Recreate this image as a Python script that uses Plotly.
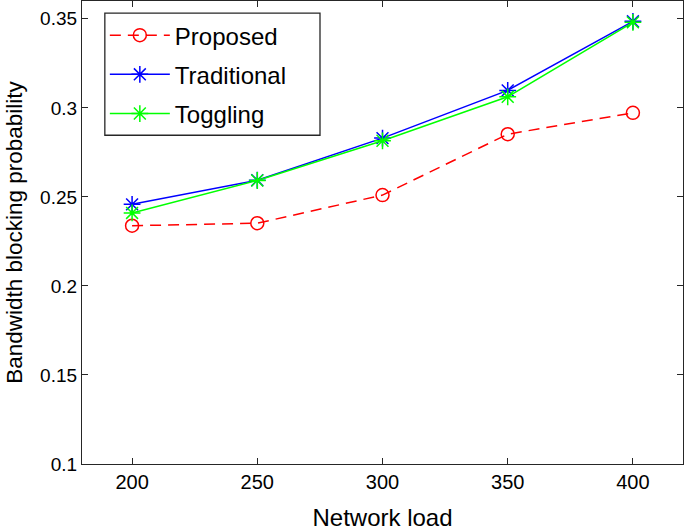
import plotly.graph_objects as go

# network load values on the x axis
network_load = [200, 250, 300, 350, 400]

# bandwidth blocking probability per scheme
proposed = [0.2338, 0.2352, 0.2510, 0.2852, 0.2972]
traditional = [0.2458, 0.2594, 0.2830, 0.3098, 0.3486]
toggling = [0.2410, 0.2592, 0.2815, 0.3062, 0.3480]

FONT = "Liberation Sans, Arial, Helvetica, sans-serif"

fig = go.Figure()

fig.add_trace(go.Scatter(
    x=network_load, y=proposed, name="Proposed", legendgroup="a",
    mode="lines+markers",
    line=dict(color="#ff0000", width=1.5, dash="11px,7px"),
    marker=dict(symbol="circle-open", size=13, color="#ff0000", line=dict(width=1.5)),
))
fig.add_trace(go.Scatter(
    x=network_load, y=traditional, name="Traditional", legendgroup="b",
    mode="lines+markers",
    line=dict(color="#0000ff", width=1.5),
    marker=dict(symbol="asterisk-open", size=14, color="#0000ff", line=dict(width=1.5, color="#0000ff")),
))
fig.add_trace(go.Scatter(
    x=network_load, y=toggling, name="Toggling", legendgroup="c",
    mode="lines+markers",
    line=dict(color="#00ff00", width=1.5),
    marker=dict(symbol="asterisk-open", size=14, color="#00ff00", line=dict(width=1.5, color="#00ff00")),
))

axis_style = dict(
    showline=True, linecolor="#262626", linewidth=1.2, mirror="ticks",
    ticks="inside", ticklen=6, tickcolor="#262626", showgrid=False, zeroline=False,
    automargin=False,
)

fig.update_layout(
    width=685, height=531,
    margin=dict(l=82, r=2, t=1, b=67, autoexpand=False),
    paper_bgcolor="white", plot_bgcolor="white",
    font=dict(family=FONT, color="#000"),
    xaxis=dict(range=[180, 420], tickvals=network_load,
               tickfont=dict(family=FONT, size=20, color="#000"),
               title=dict(text="Network load", font=dict(family=FONT, size=24), standoff=31),
               **axis_style),
    yaxis=dict(range=[0.1, 0.36], dtick=0.05, tick0=0.1,
               tickfont=dict(family=FONT, size=19, color="#000"),
               title=dict(text="Bandwidth blocking probability", font=dict(family=FONT, size=22.5), standoff=11),
               **axis_style),
    legend=dict(x=0.038, y=0.974, xanchor="left", yanchor="top",
                bgcolor="rgba(0,0,0,0)", borderwidth=0,
                font=dict(family=FONT, size=24), tracegroupgap=5,
                traceorder="grouped", itemwidth=60),
    showlegend=True,
    # legend frame, wider than plotly's own box, as in the reference
    shapes=[dict(type="rect", xref="paper", yref="paper",
                 x0=0.038, x1=0.396, y0=0.710, y1=0.974,
                 fillcolor="white", line=dict(color="#262626", width=1.3),
                 layer="above")],
)

# drop the page's default body margin so the figure sits at the window's corner
fig.write_html("out.html", config={"displayModeBar": False},
               post_script="document.body.style.margin='0';")
